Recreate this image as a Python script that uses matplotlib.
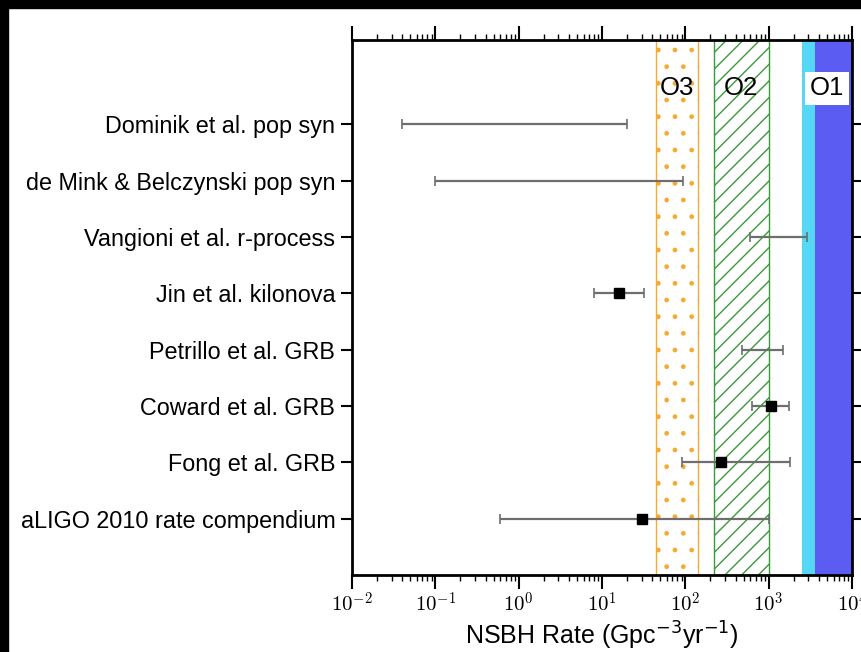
import numpy as np
import matplotlib
matplotlib.use('Agg')
import matplotlib.pyplot as plt
from matplotlib.patches import Rectangle
from matplotlib.ticker import LogLocator, NullFormatter, FuncFormatter

plt.rcParams['font.family'] = ['Liberation Sans', 'DejaVu Sans']
plt.rcParams['mathtext.fontset'] = 'cm'
plt.rcParams['hatch.linewidth'] = 1.0

# rate estimates, bottom row first (Gpc^-3 yr^-1)
labels = ['aLIGO 2010 rate compendium', 'Fong et al. GRB', 'Coward et al. GRB',
          'Petrillo et al. GRB', 'Jin et al. kilonova', 'Vangioni et al. r-process',
          'de Mink & Belczynski pop syn', 'Dominik et al. pop syn']
rate_low = [0.6, 90, 630, 480, 8, 600, 0.1, 0.04]
rate_high = [1000, 1800, 1750, 1500, 32, 2900, 93, 20]
rate_mid = [30, 270, 1070, np.nan, 16, np.nan, np.nan, np.nan]

# observing run sensitivity bands
o3_band = (45, 140)
o2_band = (220, 1000)
o1_light = (2500, 3600)
o1_dark = (3600, 1e4)

fig = plt.figure(figsize=(8.62, 6.52), dpi=100)
ax = fig.add_axes([352/862, 1-575/652, 500/862, 535/652])

ax.axvspan(*o3_band, facecolor='none', edgecolor='#f5aa35', hatch='.', lw=1.0, zorder=1)
ax.axvspan(*o2_band, facecolor='none', edgecolor='#3a9a3a', hatch='//', lw=1.0, zorder=1)
ax.axvspan(*o1_light, facecolor='#55d8f6', edgecolor='none', zorder=1)
ax.axvspan(*o1_dark, facecolor='#5a5cf2', edgecolor='none', zorder=1)

ypos = np.arange(len(labels))
lo = np.array(rate_low)
hi = np.array(rate_high)
mid = np.array(rate_mid)
center = np.where(np.isnan(mid), np.sqrt(lo*hi), mid)
ax.errorbar(center, ypos, xerr=[center-lo, hi-center], fmt='none',
            ecolor='#6e6e6e', elinewidth=1.6, capsize=3.5, capthick=1.2, zorder=3)
ax.plot(mid, ypos, 's', color='k', ms=7.5, zorder=4)

ytxt = 7.64
ax.text(np.sqrt(o3_band[0]*o3_band[1]), ytxt, 'O3', ha='center', va='center',
        fontsize=18.5, zorder=5)
ax.text(np.sqrt(o2_band[0]*o2_band[1]), ytxt, 'O2', ha='center', va='center',
        fontsize=18.5, zorder=5)
ax.text(np.sqrt(o1_light[0]*o1_dark[1]), ytxt, 'O1', ha='center', va='center',
        fontsize=18.5, zorder=5,
        bbox=dict(facecolor='white', edgecolor='none', pad=3.5))

ax.set_xscale('log')
ax.set_xlim(1e-2, 1e4)
ax.set_ylim(-1, 8.5)
ax.set_yticks(ypos)
ax.set_yticklabels(labels, fontsize=16.8)
ax.xaxis.set_major_locator(LogLocator(base=10, numticks=20))
ax.xaxis.set_major_formatter(FuncFormatter(lambda v, p: f'$10^{{{int(round(np.log10(v)))}}}$'))
ax.xaxis.set_minor_locator(LogLocator(base=10, subs=np.arange(2, 10), numticks=20))
ax.xaxis.set_minor_formatter(NullFormatter())
ax.tick_params(axis='x', which='major', labelsize=15, length=10, width=1.5,
               top=True, direction='out', pad=2)
ax.tick_params(axis='x', which='minor', length=4, width=1.0, top=True, direction='out')
ax.tick_params(axis='y', which='both', length=8, width=1.5, right=True,
               direction='out', pad=4)
ax.set_xlabel('NSBH Rate (Gpc$^{-3}$yr$^{-1}$)', fontsize=18,
              math_fontfamily='dejavusans', labelpad=3)
for s in ax.spines.values():
    s.set_linewidth(2)

# black screen border
fig.add_artist(Rectangle((0, 1-8/652), 1, 8/652, transform=fig.transFigure,
                         color='k', zorder=10))
fig.add_artist(Rectangle((0, 0), 8/862, 1, transform=fig.transFigure,
                         color='k', zorder=10))

fig.savefig('out.png', dpi=100)
